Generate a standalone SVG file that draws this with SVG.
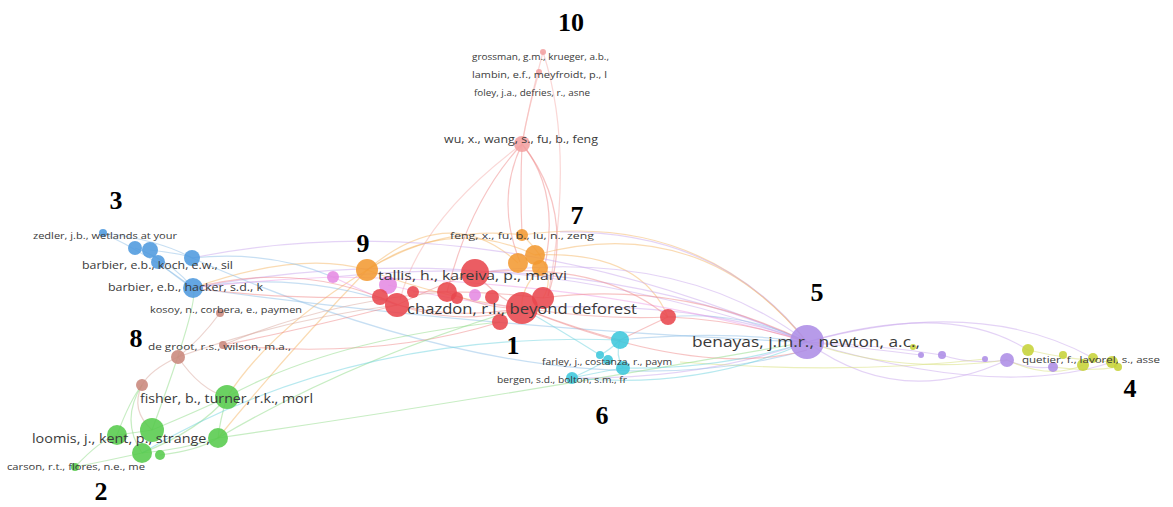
<svg xmlns="http://www.w3.org/2000/svg" width="1173" height="507" viewBox="0 0 1173 507">
<style>
.e{fill:none;stroke-width:1.2;stroke-opacity:0.5}
.er{stroke:#f08a8a}.eo{stroke:#f5b868}.ep{stroke:#c9a8ee}.eb{stroke:#8fbfe8}.eg{stroke:#8fdc88}.ec{stroke:#6fd3df}.en{stroke:#d9a79e}.em{stroke:#ee9ee8}.es{stroke:#f5b0ae}.ey{stroke:#d7df7a}
.n{fill-opacity:0.88}
.red{fill:#e8474d}.org{fill:#f39a32}.pnk{fill:#e58ae2}.sal{fill:#f2a0a0}.blu{fill:#4e9ade}.brn{fill:#c9877c}.grn{fill:#57cb4c}.cyn{fill:#3ec7dc}.pur{fill:#ad8de6}.yel{fill:#c6d338}
.lb{font-family:"Open Sans","DejaVu Sans",sans-serif;fill:#3a3a3a}
.num{font-family:"Liberation Serif",serif;font-weight:bold;font-size:26px;fill:#000;text-anchor:middle}
</style>
<rect width="1173" height="507" fill="#ffffff"/>
<g id="connectors">
<!-- salmon / cluster 10 -->
<path class="e es" d="M543 52 Q530 100 522 144"/>
<path class="e es" d="M539 72 Q528 110 522 144"/>
<path class="e es" d="M543 52 Q575 150 548 296"/>
<path class="e er" d="M522 144 Q470 200 447 292"/>
<path class="e er" d="M522 144 Q495 200 520 262"/>
<path class="e er" d="M522 144 Q520 190 522 235"/>
<path class="e er" d="M522 144 Q560 190 545 265"/>
<path class="e er" d="M522 144 Q575 210 548 296"/>
<path class="e es" d="M522 144 Q420 220 400 300"/>
<!-- orange -->
<path class="e eo" d="M367 270 Q450 200 518 263"/>
<path class="e eo" d="M367 270 Q450 215 535 255"/>
<path class="e eo" d="M367 270 Q440 225 522 235"/>
<path class="e eo" d="M367 270 Q450 300 522 308"/>
<path class="e eo" d="M367 270 Q290 350 218 438"/>
<path class="e eo" d="M367 270 Q270 330 227 397"/>
<path class="e eo" d="M367 270 Q300 250 193 288"/>
<path class="e eo" d="M535 255 Q700 210 807 342"/>
<path class="e eo" d="M522 235 Q700 210 807 342"/>
<path class="e eo" d="M540 268 Q520 290 522 308"/>
<path class="e eo" d="M522 235 Q560 270 543 298"/>
<path class="e eo" d="M535 255 Q640 250 668 317"/>
<!-- purple -->
<path class="e ep" d="M193 288 Q500 230 807 342"/>
<path class="e ep" d="M192 258 Q480 200 807 342"/>
<path class="e ep" d="M333 277 Q600 250 807 342"/>
<path class="e ep" d="M522 308 Q700 300 807 342"/>
<path class="e ep" d="M475 273 Q680 245 807 342"/>
<path class="e ep" d="M807 342 Q700 380 572 378"/>
<path class="e ep" d="M807 342 Q720 230 560 232"/>
<path class="e ep" d="M807 342 Q950 300 1028 350"/>
<path class="e ep" d="M807 342 Q980 295 1093 358"/>
<path class="e ep" d="M807 342 Q900 410 1007 360"/>
<path class="e ep" d="M807 342 Q880 350 921 355"/>
<path class="e ep" d="M807 342 Q880 345 942 355"/>
<path class="e ep" d="M942 355 Q970 365 1007 360"/>
<path class="e ep" d="M1007 360 Q1030 370 1053 367"/>
<path class="e ep" d="M807 342 Q1000 400 1112 362"/>
<path class="e ey" d="M807 342 Q900 375 1007 360"/>
<path class="e ey" d="M680 362 Q850 375 985 359"/>
<path class="e ey" d="M1028 350 Q1070 360 1112 362"/>
<path class="e ey" d="M1053 367 Q1090 372 1118 367"/>
<path class="e ey" d="M1007 360 Q1050 380 1083 365"/>
<!-- blue -->
<path class="e eb" d="M103 233 Q150 255 193 288"/>
<path class="e eb" d="M135 248 Q170 260 193 288"/>
<path class="e eb" d="M150 250 Q190 255 192 258"/>
<path class="e eb" d="M158 262 Q180 280 193 288"/>
<path class="e eb" d="M103 233 Q160 240 192 258"/>
<path class="e eb" d="M193 288 Q300 270 397 305"/>
<path class="e eb" d="M192 258 Q270 250 333 277"/>
<path class="e eb" d="M193 288 Q500 330 807 342"/>
<path class="e eb" d="M192 258 Q560 420 807 350"/>
<path class="e eb" d="M620 340 Q720 330 807 342"/>
<path class="e eb" d="M668 317 Q740 310 807 342"/>
<!-- pink -->
<path class="e em" d="M333 277 Q360 290 397 305"/>
<path class="e em" d="M333 277 Q260 280 193 288"/>
<path class="e em" d="M388 285 Q450 300 522 308"/>
<path class="e em" d="M333 277 Q600 280 807 342"/>
<!-- red internal -->
<path class="e er" d="M397 305 Q460 320 522 308"/>
<path class="e er" d="M380 297 Q450 330 522 308"/>
<path class="e er" d="M397 305 Q450 280 475 273"/>
<path class="e er" d="M413 292 Q480 290 543 298"/>
<path class="e er" d="M447 292 Q490 310 522 308"/>
<path class="e er" d="M475 273 Q500 300 522 308"/>
<path class="e er" d="M522 308 Q600 320 668 317"/>
<path class="e er" d="M475 273 Q600 260 668 317"/>
<path class="e er" d="M668 317 Q740 320 807 342"/>
<path class="e er" d="M668 317 Q640 330 620 340"/>
<path class="e er" d="M522 308 Q580 330 620 340"/>
<path class="e er" d="M522 308 Q700 380 807 350"/>
<path class="e er" d="M397 305 Q300 330 223 345"/>
<path class="e er" d="M380 297 Q280 300 193 288"/>
<path class="e er" d="M500 322 Q380 360 223 345"/>
<path class="e er" d="M543 298 Q680 280 807 342"/>
<path class="e er" d="M397 305 Q300 260 193 288"/>
<!-- brown -->
<path class="e en" d="M178 357 Q280 320 397 305"/>
<path class="e en" d="M223 345 Q330 300 447 292"/>
<path class="e en" d="M142 385 Q130 410 152 430"/>
<path class="e en" d="M178 357 Q150 370 142 385"/>
<path class="e en" d="M220 313 Q200 340 178 357"/>
<path class="e en" d="M178 357 Q200 390 227 397"/>
<!-- green -->
<path class="e eg" d="M227 397 Q330 340 500 322"/>
<path class="e eg" d="M218 438 Q350 360 522 308"/>
<path class="e eg" d="M152 430 Q200 410 227 397"/>
<path class="e eg" d="M117 435 Q140 432 152 430"/>
<path class="e eg" d="M142 453 Q200 430 227 397"/>
<path class="e eg" d="M160 455 Q200 450 218 438"/>
<path class="e eg" d="M142 453 Q180 450 218 438"/>
<path class="e eg" d="M75 467 Q100 440 117 435"/>
<path class="e eg" d="M75 467 Q110 460 142 453"/>
<path class="e eg" d="M117 435 Q130 400 142 385"/>
<path class="e eg" d="M227 397 Q220 420 218 438"/>
<path class="e eg" d="M142 453 Q120 420 142 385"/>
<path class="e eg" d="M152 430 Q200 300 193 288"/>
<path class="e eg" d="M218 438 Q480 400 807 342"/>
<!-- cyan -->
<path class="e ec" d="M142 453 Q350 330 620 340"/>
<path class="e ec" d="M620 340 Q610 350 600 355"/>
<path class="e ec" d="M620 340 Q615 355 623 368"/>
<path class="e ec" d="M608 360 Q590 370 572 378"/>
<path class="e ec" d="M623 368 Q600 372 572 378"/>
<path class="e ec" d="M600 355 Q560 330 522 308"/>
<path class="e ec" d="M572 378 Q700 390 807 342"/>
<path class="e ec" d="M623 368 Q720 370 807 342"/>
</g>
<g id="node-cluster10">
<circle class="n sal" cx="543" cy="52" r="3"/>
<circle class="n sal" cx="539" cy="72" r="3"/>
<circle class="n sal" cx="522" cy="144" r="8"/>
</g>
<g id="node-cluster3">
<circle class="n blu" cx="103" cy="233" r="4"/>
<circle class="n blu" cx="135" cy="248" r="7"/>
<circle class="n blu" cx="150" cy="250" r="8"/>
<circle class="n blu" cx="158" cy="262" r="7"/>
<circle class="n blu" cx="192" cy="258" r="8"/>
<circle class="n blu" cx="193" cy="288" r="10"/>
</g>
<g id="node-cluster8">
<circle class="n brn" cx="220" cy="313" r="4"/>
<circle class="n brn" cx="223" cy="345" r="4"/>
<circle class="n brn" cx="178" cy="357" r="7"/>
<circle class="n brn" cx="142" cy="385" r="6"/>
</g>
<g id="node-cluster2">
<circle class="n grn" cx="227" cy="397" r="12"/>
<circle class="n grn" cx="117" cy="435" r="10"/>
<circle class="n grn" cx="152" cy="430" r="12"/>
<circle class="n grn" cx="142" cy="453" r="10"/>
<circle class="n grn" cx="160" cy="455" r="5"/>
<circle class="n grn" cx="218" cy="438" r="10"/>
<circle class="n grn" cx="75" cy="467" r="4"/>
</g>
<g id="node-cluster9">
<circle class="n pnk" cx="333" cy="277" r="6"/>
<circle class="n pnk" cx="388" cy="285" r="9"/>
<circle class="n org" cx="367" cy="270" r="11"/>
</g>
<g id="node-cluster1">
<circle class="n red" cx="380" cy="297" r="8"/>
<circle class="n red" cx="397" cy="305" r="12"/>
<circle class="n red" cx="413" cy="292" r="6"/>
<circle class="n red" cx="447" cy="292" r="10"/>
<circle class="n red" cx="457" cy="298" r="6"/>
<circle class="n red" cx="475" cy="273" r="14"/>
<circle class="n pnk" cx="475" cy="295" r="6"/>
<circle class="n red" cx="492" cy="297" r="7"/>
<circle class="n red" cx="500" cy="322" r="8"/>
<circle class="n red" cx="543" cy="298" r="11"/>
<circle class="n red" cx="522" cy="308" r="16"/>
<circle class="n red" cx="668" cy="317" r="8"/>
</g>
<g id="node-cluster7">
<circle class="n org" cx="522" cy="235" r="6"/>
<circle class="n org" cx="518" cy="263" r="10"/>
<circle class="n org" cx="535" cy="255" r="10"/>
<circle class="n org" cx="540" cy="268" r="8"/>
</g>
<g id="node-cluster6">
<circle class="n cyn" cx="620" cy="340" r="9"/>
<circle class="n cyn" cx="600" cy="355" r="4"/>
<circle class="n cyn" cx="608" cy="360" r="5"/>
<circle class="n cyn" cx="623" cy="368" r="7"/>
<circle class="n cyn" cx="572" cy="378" r="6"/>
</g>
<g id="node-cluster5">
<circle class="n pur" cx="807" cy="342" r="17"/>
<circle class="n yel" cx="913" cy="347" r="3"/>
<circle class="n pur" cx="921" cy="355" r="3"/>
<circle class="n pur" cx="942" cy="355" r="4"/>
<circle class="n pur" cx="985" cy="359" r="3"/>
<circle class="n pur" cx="1007" cy="360" r="7"/>
<circle class="n pur" cx="1053" cy="367" r="5"/>
</g>
<g id="node-cluster4">
<circle class="n yel" cx="1028" cy="350" r="6"/>
<circle class="n yel" cx="1063" cy="355" r="4"/>
<circle class="n yel" cx="1083" cy="365" r="6"/>
<circle class="n yel" cx="1093" cy="358" r="5"/>
<circle class="n yel" cx="1112" cy="362" r="6"/>
<circle class="n yel" cx="1118" cy="367" r="4"/>
</g>
<g id="labels">
<text class="lb" x="472" y="60" font-size="9" textLength="137" lengthAdjust="spacingAndGlyphs">grossman, g.m., krueger, a.b.,</text>
<text class="lb" x="472" y="78" font-size="9" textLength="135" lengthAdjust="spacingAndGlyphs">lambin, e.f., meyfroidt, p., l</text>
<text class="lb" x="474" y="96" font-size="9" textLength="116" lengthAdjust="spacingAndGlyphs">foley, j.a., defries, r., asne</text>
<text class="lb" x="444" y="143" font-size="11" textLength="154" lengthAdjust="spacingAndGlyphs">wu, x., wang, s., fu, b., feng</text>
<text class="lb" x="33" y="239" font-size="9" textLength="144" lengthAdjust="spacingAndGlyphs">zedler, j.b., wetlands at your</text>
<text class="lb" x="82" y="269" font-size="11" textLength="151" lengthAdjust="spacingAndGlyphs">barbier, e.b., koch, e.w., sil</text>
<text class="lb" x="108" y="291" font-size="11" textLength="155" lengthAdjust="spacingAndGlyphs">barbier, e.b., hacker, s.d., k</text>
<text class="lb" x="150" y="313" font-size="9" textLength="152" lengthAdjust="spacingAndGlyphs">kosoy, n., corbera, e., paymen</text>
<text class="lb" x="148" y="350" font-size="9" textLength="143" lengthAdjust="spacingAndGlyphs">de groot, r.s., wilson, m.a.,</text>
<text class="lb" x="140" y="403" font-size="12.5" textLength="173" lengthAdjust="spacingAndGlyphs">fisher, b., turner, r.k., morl</text>
<text class="lb" x="32" y="443" font-size="12.5" textLength="178" lengthAdjust="spacingAndGlyphs">loomis, j., kent, p., strange,</text>
<text class="lb" x="7" y="470" font-size="8.5" textLength="138" lengthAdjust="spacingAndGlyphs">carson, r.t., flores, n.e., me</text>
<text class="lb" x="450" y="239" font-size="9.5" textLength="144" lengthAdjust="spacingAndGlyphs">feng, x., fu, b., lu, n., zeng</text>
<text class="lb" x="378" y="280" font-size="13" textLength="189" lengthAdjust="spacingAndGlyphs">tallis, h., kareiva, p., marvi</text>
<text class="lb" x="407" y="314" font-size="15" textLength="230" lengthAdjust="spacingAndGlyphs">chazdon, r.l., beyond deforest</text>
<text class="lb" x="542" y="365" font-size="8.5" textLength="130" lengthAdjust="spacingAndGlyphs">farley, j., costanza, r., paym</text>
<text class="lb" x="497" y="383" font-size="9" textLength="130" lengthAdjust="spacingAndGlyphs">bergen, s.d., bolton, s.m., fr</text>
<text class="lb" x="692" y="347" font-size="14.5" textLength="228" lengthAdjust="spacingAndGlyphs">benayas, j.m.r., newton, a.c.,</text>
<text class="lb" x="1022" y="363" font-size="9" textLength="138" lengthAdjust="spacingAndGlyphs">quetier, f., lavorel, s., asse</text>
</g>
<g id="cluster-numbers">
<text class="num" x="571" y="31">10</text>
<text class="num" x="116" y="209">3</text>
<text class="num" x="363" y="252">9</text>
<text class="num" x="577" y="224">7</text>
<text class="num" x="817" y="301">5</text>
<text class="num" x="136" y="347">8</text>
<text class="num" x="513" y="354">1</text>
<text class="num" x="602" y="424">6</text>
<text class="num" x="1130" y="397">4</text>
<text class="num" x="101" y="500">2</text>
</g>
</svg>
